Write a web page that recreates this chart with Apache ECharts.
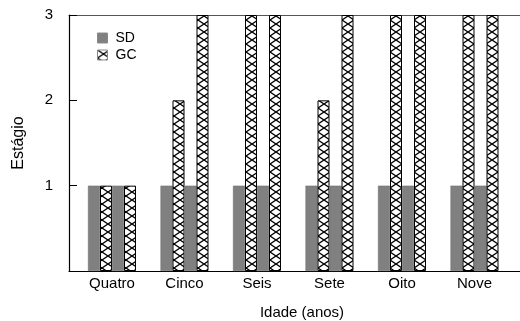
<!DOCTYPE html>
<html><head><meta charset="utf-8">
<script src="https://cdn.jsdelivr.net/npm/echarts@6/dist/echarts.min.js"></script>
<style>html,body{margin:0;padding:0;background:#fff}#c{width:520px;height:321px}</style>
</head><body><div id="c"></div>
<script>
const categories = ['Quatro', 'Cinco', 'Seis', 'Sete', 'Oito', 'Nove'];
const sdA = [1, 1, 1, 1, 1, 1];
const gcA = [1, 2, 3, 2, 3, 3];
const sdB = [1, 1, 1, 1, 1, 1];
const gcB = [1, 3, 3, 3, 3, 3];
const yTicks = [0, 1, 2, 3];

function hatch() {
  const c = document.createElement('canvas');
  c.width = 12; c.height = 8;
  const g = c.getContext('2d');
  g.fillStyle = '#fff'; g.fillRect(0, 0, 12, 8);
  g.strokeStyle = '#000'; g.lineWidth = 1.3;
  g.beginPath();
  g.moveTo(0, 0); g.lineTo(12, 8);
  g.moveTo(12, 0); g.lineTo(0, 8);
  g.stroke();
  return { image: c, repeat: 'repeat' };
}
const pat = hatch();
const font = 'Liberation Sans, Arial, sans-serif';
const chart = echarts.init(document.getElementById('c'), null, { renderer: 'canvas' });
const sdStyle = { color: '#808080', borderColor: '#6a6a6a', borderWidth: 0.5 };
const gcStyle = { color: pat, borderColor: '#000', borderWidth: 1 };
const mk = (name, data, style) => ({
  name, type: 'bar', data, xAxisIndex: 2, yAxisIndex: 1,
  barWidth: 12, barGap: '0%', itemStyle: style, animation: false
});
chart.setOption({
  animation: false,
  textStyle: { fontFamily: font },
  grid: [
    { left: 69, right: -15, top: 15, bottom: 50, outerBoundsMode: 'none', containLabel: false },
    { left: 75.75, right: 9.25, top: 15, bottom: 50, outerBoundsMode: 'none', containLabel: false }
  ],
  legend: {
    data: [{ name: 'SD', icon: 'rect' }, { name: 'GC', icon: 'rect' }],
    orient: 'vertical', left: 97, top: 31, padding: 0,
    itemWidth: 10, itemHeight: 10, itemGap: 3,
    itemStyle: { borderColor: '#8a8a8a', borderWidth: 1 },
    textStyle: { fontSize: 14, color: '#000', fontFamily: font, padding: [0, 0, 0, 3] }
  },
  xAxis: [
    { type: 'value', gridIndex: 0, min: 0, max: 1, position: 'bottom',
      axisLine: { show: true, onZero: false, lineStyle: { color: '#000', width: 1.2 } },
      axisTick: { show: false }, axisLabel: { show: false }, splitLine: { show: false },
      name: 'Idade (anos)', nameLocation: 'middle', nameGap: 34,
      nameTextStyle: { fontSize: 15, color: '#000', fontFamily: font } },
    { type: 'value', gridIndex: 0, min: 0, max: 1, position: 'top',
      axisLine: { show: true, onZero: false, lineStyle: { color: '#555', width: 1 } },
      axisTick: { show: false }, axisLabel: { show: false }, splitLine: { show: false } },
    { type: 'category', gridIndex: 1, data: categories,
      axisLine: { show: false }, axisTick: { show: false }, splitLine: { show: false },
      axisLabel: { fontSize: 15, color: '#000', margin: 5, fontFamily: font } }
  ],
  yAxis: [
    { type: 'value', gridIndex: 0, min: 0, max: 3, interval: 1,
      axisLine: { show: true, onZero: false, lineStyle: { color: '#000', width: 1.2 } },
      axisTick: { show: true, inside: true, length: 8, lineStyle: { color: '#000' } },
      axisLabel: { fontSize: 15, color: '#000', margin: 16, fontFamily: font,
        formatter: v => (v === yTicks[0] ? '' : String(v)) },
      splitLine: { show: false },
      name: 'Estágio', nameLocation: 'middle', nameGap: 42,
      nameTextStyle: { fontSize: 16, color: '#000', fontFamily: font } },
    { type: 'value', gridIndex: 1, min: 0, max: 3, show: false, splitLine: { show: false } }
  ],
  series: [
    mk('SD', sdA, sdStyle),
    mk('GC', gcA, gcStyle),
    mk('SD', sdB, sdStyle),
    mk('GC', gcB, gcStyle)
  ]
});
</script></body></html>
